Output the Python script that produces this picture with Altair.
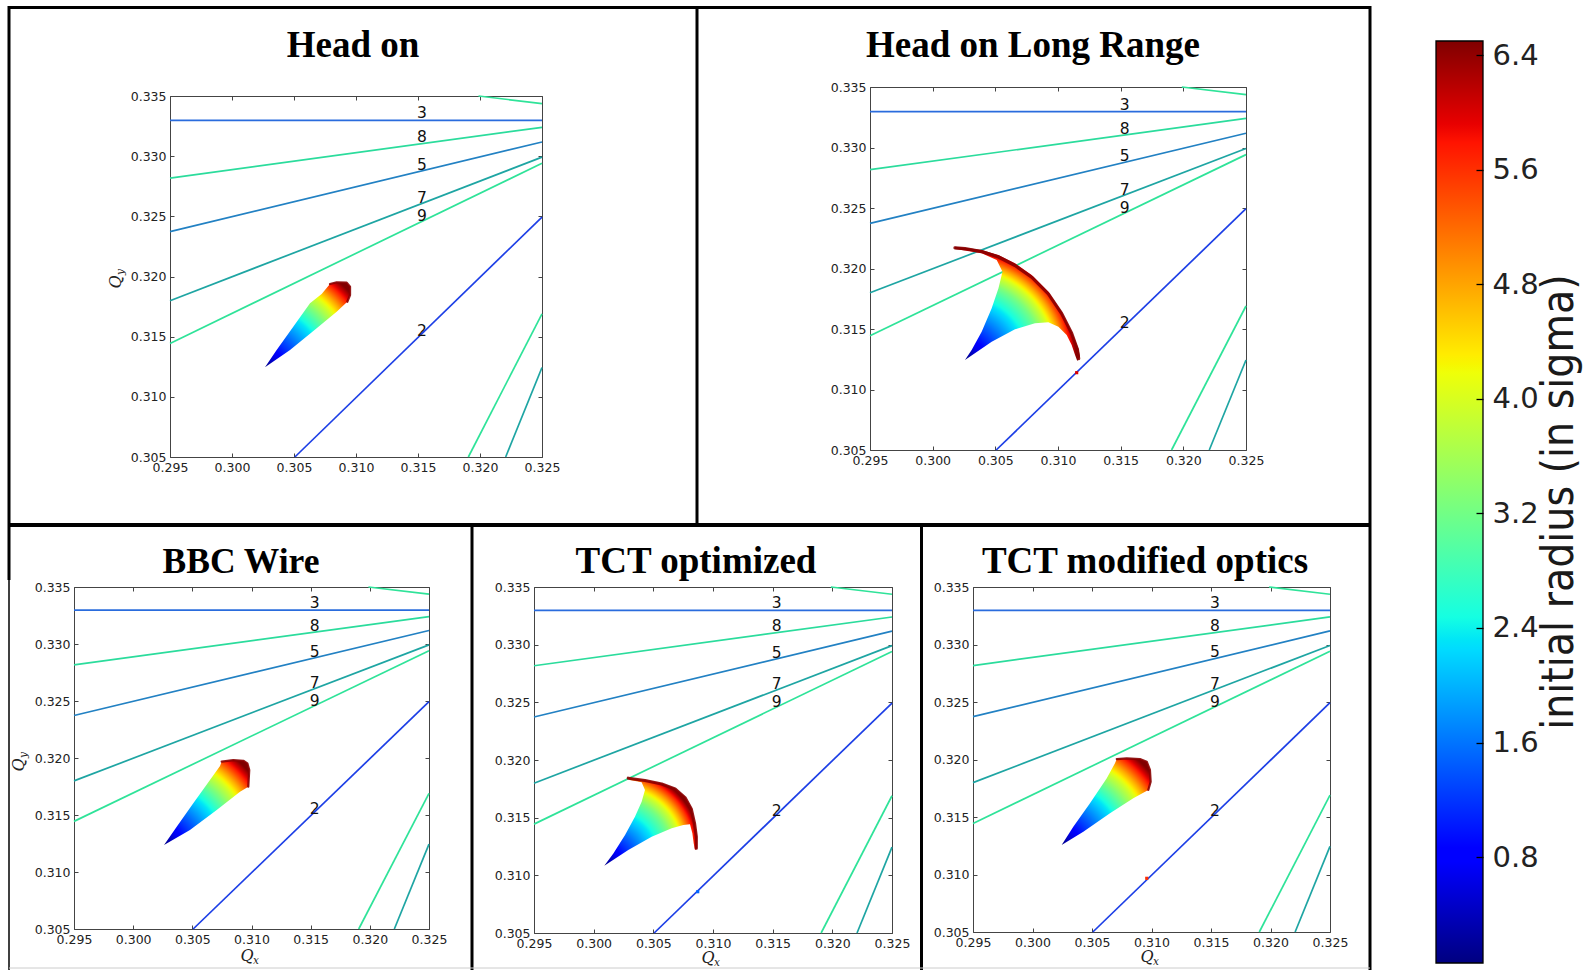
import altair as alt
import numpy as np
import pandas as pd

W, H = 1593, 970

# ------------------------------------------------------------------ data
QX_DOMAIN = [0.295, 0.325]
QY_DOMAIN = [0.305, 0.335]
QX_TICKS = [0.295, 0.300, 0.305, 0.310, 0.315, 0.320, 0.325]
QY_TICKS = [0.305, 0.310, 0.315, 0.320, 0.325, 0.330, 0.335]

# resonance lines (identical in every panel)
RES_ORDER = [3, 8, 5, 7, 9, 2, 9, 9, 7]
RES_QX1 = [0.295, 0.295, 0.295, 0.295, 0.295, 0.30507, 0.31988, 0.31906, 0.32207]
RES_QY1 = [0.33297, 0.32817, 0.32373, 0.31799, 0.31444, 0.305, 0.335, 0.305, 0.305]
RES_QX2 = [0.325, 0.325, 0.325, 0.325, 0.325, 0.325, 0.325, 0.325, 0.325]
RES_QY2 = [0.33297, 0.3324, 0.33118, 0.32992, 0.32941, 0.32494, 0.33437, 0.3169, 0.31244]

RES_LABELS = ["3", "8", "5", "7", "9", "2"]
RES_LABEL_QX = [0.315, 0.315, 0.315, 0.315, 0.315, 0.315]
RES_LABEL_QY = [0.33297, 0.33099, 0.32870, 0.32594, 0.32442, 0.31493]

PANEL_TITLES = ["Head on", "Head on Long Range", "BBC Wire", "TCT optimized", "TCT modified optics"]

# footprint outlines (Qx, Qy)
FP1_QX = [0.30266, 0.30468, 0.30683, 0.30844, 0.3093, 0.30952, 0.30952, 0.30925, 0.30844, 0.3079, 0.30723, 0.30629, 0.30494, 0.3036]
FP1_QY = [0.31245, 0.31389, 0.31569, 0.31707, 0.3179, 0.31846, 0.31915, 0.31949, 0.31952, 0.31938, 0.31855, 0.31777, 0.31583, 0.31389]
RIM1_QX = [0.3079, 0.30844, 0.30925, 0.30952, 0.30952, 0.3093]
RIM1_QY = [0.31938, 0.31952, 0.31949, 0.31915, 0.31846, 0.3179]

FP2_QX = [0.30258, 0.30471, 0.30657, 0.30816, 0.30923, 0.31003, 0.31069, 0.31109, 0.31136, 0.31154,
          0.31176, 0.31162, 0.31109, 0.31029, 0.30923, 0.3079, 0.30657, 0.30525, 0.30391, 0.30258, 0.30178,
          0.30178, 0.30391, 0.30511, 0.30557, 0.30525, 0.30471, 0.30391, 0.30311]
FP2_QY = [0.31244, 0.31395, 0.31497, 0.31547, 0.31555, 0.31519, 0.3145, 0.31368, 0.31285, 0.31236,
          0.31271, 0.3134, 0.31478, 0.31643, 0.31808, 0.31946, 0.32043, 0.32112, 0.32153, 0.32172, 0.3218,
          0.32161, 0.32126, 0.3207, 0.31974, 0.31836, 0.31671, 0.31478, 0.31327]
RIM2_QX = [0.30178, 0.30258, 0.30391, 0.30525, 0.30657, 0.3079, 0.30923, 0.31029, 0.31109, 0.31155, 0.31165]
RIM2_QY = [0.32171, 0.32165, 0.3214, 0.32095, 0.32025, 0.31928, 0.3179, 0.31628, 0.31465, 0.3133, 0.31255]

FP3_QX = [0.30261, 0.3048, 0.30706, 0.30903, 0.30973, 0.30981, 0.30965, 0.30931, 0.30846, 0.30748, 0.30734, 0.30649, 0.30508, 0.30368]
FP3_QY = [0.31237, 0.31368, 0.31544, 0.31704, 0.31748, 0.31895, 0.31953, 0.31976, 0.31982, 0.31968, 0.3193, 0.31807, 0.31603, 0.31397]
RIM3_QX = [0.30748, 0.30846, 0.30931, 0.30965, 0.30981, 0.30973]
RIM3_QY = [0.31968, 0.31982, 0.31976, 0.31953, 0.31895, 0.31748]

FP4_QX = [0.30089, 0.3029, 0.30486, 0.30654, 0.30751, 0.30807, 0.30827, 0.30838, 0.30849,
          0.30866, 0.30866, 0.30849, 0.30821, 0.30765, 0.30682, 0.3057, 0.3043, 0.3029,
          0.30304, 0.30402, 0.3043, 0.30402, 0.30346, 0.30263, 0.30165]
FP4_QY = [0.31084, 0.3122, 0.31335, 0.31408, 0.31437, 0.31443, 0.31364, 0.31278, 0.3122,
          0.31234, 0.31335, 0.31451, 0.31581, 0.31682, 0.31755, 0.31798, 0.31827, 0.31847,
          0.31827, 0.31807, 0.3174, 0.31639, 0.31509, 0.3135, 0.3119]
RIM4_QX = [0.3029, 0.3043, 0.3057, 0.30682, 0.30765, 0.30818, 0.30845, 0.3086, 0.3086]
RIM4_QY = [0.31842, 0.31822, 0.31792, 0.31748, 0.31674, 0.31575, 0.31451, 0.31335, 0.31235]

FP5_QX = [0.30245, 0.30427, 0.30651, 0.30847, 0.30973, 0.30993, 0.30987, 0.3096, 0.30903, 0.30792, 0.30708, 0.30693, 0.30624, 0.30483, 0.30343]
FP5_QY = [0.31257, 0.31372, 0.31532, 0.31663, 0.31735, 0.31807, 0.31909, 0.31981, 0.32004, 0.3201, 0.32004, 0.31967, 0.31836, 0.31619, 0.31416]
RIM5_QX = [0.30708, 0.30792, 0.30903, 0.3096, 0.30987, 0.30993, 0.30973]
RIM5_QY = [0.32004, 0.3201, 0.32004, 0.31981, 0.31909, 0.31807, 0.31735]

# zero-amplitude tip of each footprint and centre of the outer (max radius) edge
FP_TIP_QX = [0.30266, 0.30258, 0.30261, 0.30089, 0.30245]
FP_TIP_QY = [0.31245, 0.31244, 0.31237, 0.31084, 0.31257]
FP_CENTER_QX = [0.30266, 0.30258, 0.30261, 0.3025, 0.30245]
FP_CENTER_QY = [0.31245, 0.31244, 0.31237, 0.3125, 0.31257]

# colour (initial radius, sigma) against fraction of the tip-to-edge distance
FP_SIGMA = [0.06, 0.8, 1.6, 2.4, 3.2, 4.0, 4.8, 5.6, 6.5]
FP_FRAC_HEADON = [0.0, 0.15, 0.33, 0.50, 0.62, 0.73, 0.81, 0.88, 0.96]
FP_FRAC_LR = [0.0, 0.17, 0.36, 0.54, 0.68, 0.78, 0.85, 0.91, 0.97]

# isolated particles sitting on the 2nd-order line
STRAY_PANEL = [1, 3, 4]
STRAY_QX = [0.31149, 0.30872, 0.3096]
STRAY_QY = [0.31139, 0.30858, 0.30967]
STRAY_SIGMA = [6.0, 1.5, 5.6]

# colour bar
CB_MIN, CB_MAX = 0.06, 6.5
CB_TICKS = [0.8, 1.6, 2.4, 3.2, 4.0, 4.8, 5.6, 6.4]
CB_TITLE = "initial radius (in sigma)"

# ------------------------------------------------------------------ layout / style
PANEL_BOX = [(170, 96, 542, 457), (870, 87, 1246, 450), (74, 587, 429, 929),
             (534, 587, 892, 933), (973, 587, 1330, 932)]
TITLE_POS = [(353, 57), (1033, 57), (241, 573), (696, 573), (1145, 573)]
TITLE_SIZE = [37, 37, 35.5, 37, 37]
FP_FRAC = [FP_FRAC_HEADON, FP_FRAC_LR, FP_FRAC_HEADON, FP_FRAC_LR, FP_FRAC_HEADON]
FP_QX = [FP1_QX, FP2_QX, FP3_QX, FP4_QX, FP5_QX]
FP_QY = [FP1_QY, FP2_QY, FP3_QY, FP4_QY, FP5_QY]
RIM_QX = [RIM1_QX, RIM2_QX, RIM3_QX, RIM4_QX, RIM5_QX]
RIM_QY = [RIM1_QY, RIM2_QY, RIM3_QY, RIM4_QY, RIM5_QY]
RIM_WIDTH = [2.2, 3.2, 2.2, 3.2, 2.2]
ORDER_COLORS = {2: "#1d3fe6", 3: "#2a6cdd", 5: "#2281c3", 7: "#1ea5a3", 8: "#2bdc9c", 9: "#2fe399"}
TICK_FONT = "DejaVu Sans"
FRAME = "#444444"
CB_BOX = (1436, 41, 1483, 963)


def jet(t):
    t = min(max(float(t), 0.0), 1.0)
    r = np.interp(t, [0, 0.35, 0.66, 0.89, 1.0], [0, 0, 1, 1, 0.5])
    g = np.interp(t, [0, 0.125, 0.375, 0.64, 0.91, 1.0], [0, 0, 1, 1, 0, 0])
    b = np.interp(t, [0, 0.11, 0.34, 0.65, 1.0], [0.5, 1, 1, 0, 0])
    return "#%02x%02x%02x" % (int(round(r * 255)), int(round(g * 255)), int(round(b * 255)))


def norm(s):
    return (s - CB_MIN) / (CB_MAX - CB_MIN)


def to_px(box, qx, qy):
    L, T, R, B = box
    qx = np.asarray(qx, float)
    qy = np.asarray(qy, float)
    return L + (qx - 0.295) / 0.03 * (R - L), B - (qy - 0.305) / 0.03 * (B - T)


def footprint_gradient(k):
    box = PANEL_BOX[k]
    xs, ys = to_px(box, FP_QX[k], FP_QY[k])
    bx, by = xs.min(), ys.min()
    w, h = xs.max() - bx, ys.max() - by
    S = max(w, h)
    ox, oy = bx + (w - S) / 2, by + (h - S) / 2
    tx, ty = to_px(box, FP_TIP_QX[k], FP_TIP_QY[k])
    cx, cy = to_px(box, FP_CENTER_QX[k], FP_CENTER_QY[k])
    rad = float(np.max(np.hypot(xs - cx, ys - cy)))
    sig = np.linspace(CB_MIN, CB_MAX, 41)
    off = np.interp(sig, FP_SIGMA, FP_FRAC[k])
    stops = [alt.GradientStop(color=jet(norm(s)), offset=float(o)) for s, o in zip(sig, off)]
    if off[-1] < 1.0:
        stops.append(alt.GradientStop(color=jet(1.0), offset=1.0))
    return alt.RadialGradient(gradient="radial", stops=stops,
                              x1=float((tx - ox) / S), y1=float((ty - oy) / S), r1=0,
                              x2=float((cx - ox) / S), y2=float((cy - oy) / S), r2=rad / S)


res_df = pd.DataFrame({"qx1": RES_QX1, "qy1": RES_QY1, "qx2": RES_QX2, "qy2": RES_QY2,
                       "col": [ORDER_COLORS[o] for o in RES_ORDER]})
lab_df = pd.DataFrame({"qx": RES_LABEL_QX, "qy": RES_LABEL_QY, "label": RES_LABELS})

layers = []

for k in range(5):
    L, T, R, B = PANEL_BOX[k]
    xs = alt.Scale(domain=QX_DOMAIN, range=[L, R], nice=False, zero=False)
    ys = alt.Scale(domain=QY_DOMAIN, range=[B, T], nice=False, zero=False)

    ax_lab_x = alt.Axis(orient="bottom", offset=B - H, values=QX_TICKS, format=".3f", ticks=False,
                        tickSize=0, labelPadding=4, labelFont=TICK_FONT, labelFontSize=12.5,
                        labelColor="#222222", domainColor=FRAME, domainWidth=1, labelOverlap=False,
                        labelFlush=False, grid=False, title=None)
    ax_lab_y = alt.Axis(orient="left", offset=-L, values=QY_TICKS, format=".3f", ticks=False,
                        tickSize=0, labelPadding=4, labelFont=TICK_FONT, labelFontSize=12.5,
                        labelColor="#222222", domainColor=FRAME, domainWidth=1, labelOverlap=False,
                        labelFlush=False, grid=False, title=None)
    # inward ticks on bottom and left edges
    ax_tick_b = alt.Axis(orient="top", offset=-B, values=QX_TICKS, labels=False, domain=False,
                         tickSize=4, tickColor=FRAME, grid=False, title=None)
    ax_tick_l = alt.Axis(orient="right", offset=L - W, values=QY_TICKS, labels=False, domain=False,
                         tickSize=4, tickColor=FRAME, grid=False, title=None)
    # top and right frame edges with inward ticks
    ax_top = alt.Axis(orient="bottom", offset=T - H, values=QX_TICKS, labels=False, domainColor=FRAME,
                      domainWidth=1, tickSize=4, tickColor=FRAME, grid=False, title=None)
    ax_right = alt.Axis(orient="left", offset=-R, values=QY_TICKS, labels=False, domainColor=FRAME,
                        domainWidth=1, tickSize=4, tickColor=FRAME, grid=False, title=None)

    lines = alt.Chart(res_df).mark_rule(strokeWidth=1.7).encode(
        x=alt.X("qx1:Q", scale=xs, axis=ax_lab_x),
        y=alt.Y("qy1:Q", scale=ys, axis=ax_lab_y),
        x2="qx2:Q", y2="qy2:Q",
        color=alt.Color("col:N", scale=None))

    labels = alt.Chart(lab_df).mark_text(align="left", baseline="bottom", font=TICK_FONT,
                                         fontSize=15.5, color="#111111", dx=-1, dy=1).encode(
        x=alt.X("qx:Q", scale=xs, axis=ax_tick_b),
        y=alt.Y("qy:Q", scale=ys, axis=ax_tick_l),
        text="label:N")

    fp_df = pd.DataFrame({"qx": FP_QX[k], "qy": FP_QY[k], "i": range(len(FP_QX[k]))})
    footprint = alt.Chart(fp_df).mark_line(filled=True, fill=footprint_gradient(k),
                                           interpolate="linear").encode(
        x=alt.X("qx:Q", scale=xs, axis=ax_top),
        y=alt.Y("qy:Q", scale=ys, axis=ax_right),
        order=alt.Order("i:Q"))

    rim_df = pd.DataFrame({"qx": RIM_QX[k], "qy": RIM_QY[k], "i": range(len(RIM_QX[k]))})
    rim = alt.Chart(rim_df).mark_line(color="#8a0000", strokeWidth=RIM_WIDTH[k], strokeCap="round",
                                      strokeJoin="round", opacity=0.9).encode(
        x=alt.X("qx:Q", scale=xs, axis=None),
        y=alt.Y("qy:Q", scale=ys, axis=None),
        order=alt.Order("i:Q"))

    layers += [lines, labels, footprint, rim]

    idx = [j for j, p in enumerate(STRAY_PANEL) if p == k]
    if idx:
        st_df = pd.DataFrame({"qx": [STRAY_QX[j] for j in idx], "qy": [STRAY_QY[j] for j in idx],
                              "c": [jet(norm(STRAY_SIGMA[j])) for j in idx]})
        layers.append(alt.Chart(st_df).mark_square(size=10, opacity=1).encode(
            x=alt.X("qx:Q", scale=xs, axis=None),
            y=alt.Y("qy:Q", scale=ys, axis=None),
            color=alt.Color("c:N", scale=None)))

    tx, ty = TITLE_POS[k]
    layers.append(alt.Chart(pd.DataFrame({"t": [PANEL_TITLES[k]]})).mark_text(
        font="Liberation Serif", fontWeight="bold", fontSize=TITLE_SIZE[k], color="black",
        align="center", baseline="alphabetic").encode(
        text="t:N", x=alt.value(tx), y=alt.value(ty)))

# axis titles Q_x / Q_y (italic, subscripted)
QX_TITLE_POS = [(247, 961), (708, 963), (1147, 962)]
for (qx_, qy_) in QX_TITLE_POS:
    layers.append(alt.Chart(pd.DataFrame({"t": ["Q"]})).mark_text(
        font="DejaVu Serif", fontStyle="italic", fontSize=16, color="#222222",
        align="center", baseline="alphabetic").encode(text="t:N", x=alt.value(qx_), y=alt.value(qy_)))
    layers.append(alt.Chart(pd.DataFrame({"t": ["x"]})).mark_text(
        font="DejaVu Serif", fontStyle="italic", fontSize=10.5, color="#222222",
        align="center", baseline="alphabetic").encode(text="t:N", x=alt.value(qx_ + 9), y=alt.value(qy_ + 3)))
QY_TITLE_POS = [(121, 282), (24, 765)]
for (qx_, qy_) in QY_TITLE_POS:
    layers.append(alt.Chart(pd.DataFrame({"t": ["Q"]})).mark_text(
        font="DejaVu Serif", fontStyle="italic", fontSize=16, color="#222222", angle=270,
        align="center", baseline="alphabetic").encode(text="t:N", x=alt.value(qx_), y=alt.value(qy_)))
    layers.append(alt.Chart(pd.DataFrame({"t": ["y"]})).mark_text(
        font="DejaVu Serif", fontStyle="italic", fontSize=10.5, color="#222222", angle=270,
        align="center", baseline="alphabetic").encode(text="t:N", x=alt.value(qx_ + 3), y=alt.value(qy_ - 10)))

# ------------------------------------------------------------------ colour bar
cb_df = pd.DataFrame({"lo": [CB_MIN], "hi": [CB_MAX]})
cb_scale = alt.Scale(domain=[CB_MIN, CB_MAX], range=[CB_BOX[3], CB_BOX[1]], nice=False, zero=False)
jet_breaks = [0, 0.11, 0.125, 0.34, 0.35, 0.375, 0.64, 0.65, 0.66, 0.89, 0.91, 1.0]
cb_grad = alt.LinearGradient(gradient="linear", x1=0, y1=1, x2=0, y2=0,
                             stops=[alt.GradientStop(color=jet(t), offset=t) for t in jet_breaks])
layers.append(alt.Chart(cb_df).mark_rect(fill=cb_grad, stroke="black", strokeWidth=1.3).encode(
    y=alt.Y("lo:Q", scale=cb_scale,
            axis=alt.Axis(orient="right", offset=CB_BOX[2] - W, values=CB_TICKS, format=".1f",
                          ticks=False, tickSize=0, labelPadding=9, labelFont=TICK_FONT,
                          labelFontSize=29, labelColor="#222222", domain=False, grid=False,
                          labelOverlap=False, labelFlush=False, title=None)),
    y2="hi:Q", x=alt.value(CB_BOX[0]), x2=alt.value(CB_BOX[2])))
layers.append(alt.Chart(cb_df).mark_point(opacity=0).encode(
    y=alt.Y("lo:Q", scale=cb_scale,
            axis=alt.Axis(orient="left", offset=-CB_BOX[2], values=CB_TICKS, labels=False,
                          domain=False, tickSize=7, tickColor="black", tickWidth=1.3, zindex=1,
                          grid=False, title=None)),
    x=alt.value(1460)))
layers.append(alt.Chart(pd.DataFrame({"t": [CB_TITLE]})).mark_text(
    font="DejaVu Sans Condensed, DejaVu Sans", fontSize=44,
    color="#1a1a1a", angle=270, align="center", baseline="middle").encode(
    text="t:N", x=alt.value(1560), y=alt.value(502)))

# ------------------------------------------------------------------ frame lines
border_df = pd.DataFrame({
    "x": [8, 9, 9, 1370, 697, 8, 472, 921.5, 9],
    "y": [7.5, 6, 580, 6, 7, 525, 525, 525, 968],
    "x2": [1371, 9, 9, 1370, 697, 1371, 472, 921.5, 1370],
    "y2": [7.5, 580, 970, 970, 525, 525, 970, 970, 968],
    "w": [3, 3, 1.5, 3, 3, 4, 3, 3, 1],
    "c": ["black", "black", "black", "black", "black", "black", "black", "black", "#cccccc"],
})
layers.append(alt.Chart(border_df).mark_rule().encode(
    x=alt.X("x:Q", scale=None), y=alt.Y("y:Q", scale=None),
    x2="x2:Q", y2="y2:Q",
    strokeWidth=alt.StrokeWidth("w:Q", scale=None),
    color=alt.Color("c:N", scale=None)))

chart = alt.layer(*layers).resolve_scale(x="independent", y="independent").properties(
    width=W, height=H, padding=0, autosize=alt.AutoSizeParams(type="none"),
    background="white"
).configure_view(stroke=None)

chart.save("out.html", embed_options={"renderer": "svg", "actions": False})
